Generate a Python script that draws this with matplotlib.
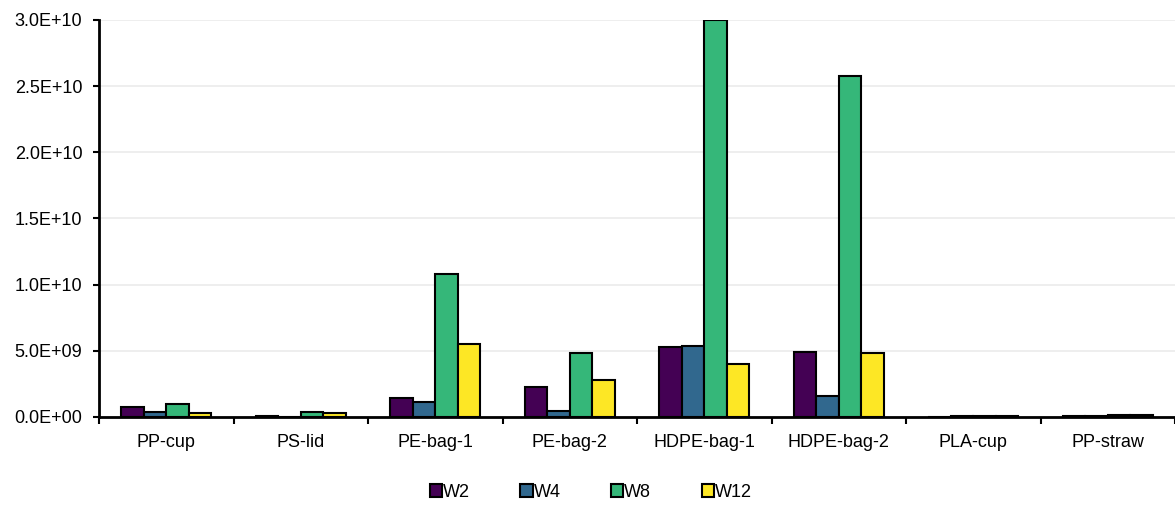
import numpy as np
import matplotlib.pyplot as plt
from matplotlib.ticker import FuncFormatter, FixedLocator

plt.rcParams['font.family'] = ['Liberation Sans', 'DejaVu Sans']

# samples and weekly counts
samples = ['PP-cup', 'PS-lid', 'PE-bag-1', 'PE-bag-2', 'HDPE-bag-1', 'HDPE-bag-2', 'PLA-cup', 'PP-straw']
weeks = ['W2', 'W4', 'W8', 'W12']
w2 = [7.3e8, 5.0e7, 1.41e9, 2.28e9, 5.30e9, 4.88e9, 3.0e7, 6.0e7]
w4 = [4.0e8, 2.0e7, 1.15e9, 4.5e8, 5.37e9, 1.60e9, 6.0e7, 1.0e8]
w8 = [9.8e8, 3.8e8, 1.08e10, 4.85e9, 3.0e10, 2.58e10, 1.0e8, 1.2e8]
w12 = [3.0e8, 2.8e8, 5.55e9, 2.80e9, 4.0e9, 4.85e9, 4.0e7, 1.3e8]
colors = ['#440154', '#31688e', '#35b779', '#fde725']

fig = plt.figure(figsize=(11.75, 5.05), dpi=100)
ax = fig.add_axes([0.0843, 0.1743, 0.9157, 0.7861])

x = np.arange(len(samples))
bw = 1 / 6
for j, (vals, name) in enumerate(zip([w2, w4, w8, w12], weeks)):
    ax.bar(x + (j - 1.5) * bw, vals, bw, color=colors[j], edgecolor='black',
           linewidth=1.5, label=name, zorder=3)

ax.set_xlim(-0.5, len(samples) - 0.5)
ax.set_ylim(0, 3.0e10)
ax.set_yticks(np.arange(0, 3.01e10, 5e9))
ax.yaxis.set_major_formatter(FuncFormatter(lambda v, p: f'{v:.1E}'))
ax.grid(axis='y', color='#ebebeb', linewidth=1.2, zorder=0)

# category labels in the middle, tick marks between groups
ax.xaxis.set_major_locator(FixedLocator(np.arange(-0.5, len(samples), 1.0)))
ax.xaxis.set_minor_locator(FixedLocator(x))
ax.set_xticklabels([], minor=False)
ax.set_xticklabels(samples, minor=True)
ax.tick_params(axis='x', which='minor', length=0, pad=12, labelsize=13)
ax.tick_params(axis='x', which='major', length=5, width=1.5)
ax.tick_params(axis='y', length=4, width=1.5, labelsize=13, pad=8)

for s in ['top', 'right']:
    ax.spines[s].set_visible(False)
for s in ['left', 'bottom']:
    ax.spines[s].set_linewidth(2)
ax.spines['bottom'].set_zorder(4)

ax.legend(loc='center', bbox_to_anchor=(0.457, -0.19), ncol=4, frameon=False,
          fontsize=13, handlelength=0.67, handleheight=0.67, handletextpad=0.05,
          columnspacing=2.8)

fig.savefig('out.png', dpi=100)
